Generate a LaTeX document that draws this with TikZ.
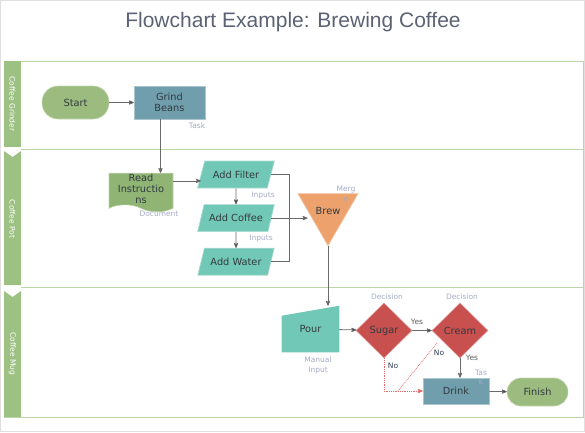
\documentclass[tikz,border=0pt]{standalone}
\usepackage{fontspec}
\setmainfont{DejaVu Sans}
\newfontfamily\titlefont{Liberation Sans}
\usepackage{tikz}
\usetikzlibrary{shapes.geometric, shapes.symbols, positioning, backgrounds}
\usetikzlibrary{arrows}

\definecolor{lanegreen}{HTML}{9DC183}
\definecolor{laneline}{HTML}{BAD5A8}
\definecolor{termgreen}{HTML}{9CBB7E}
\definecolor{docgreen}{HTML}{8FB474}
\definecolor{taskblue}{HTML}{709EAC}
\definecolor{inputteal}{HTML}{72C8B6}
\definecolor{mergeorange}{HTML}{EDA16C}
\definecolor{decisionred}{HTML}{C8504F}
\definecolor{nored}{HTML}{E26A6A}
\definecolor{tagblue}{HTML}{A4ABC6}
\definecolor{titlegrey}{HTML}{5B6274}
\definecolor{wiregrey}{HTML}{6A6A6A}
\definecolor{textdark}{HTML}{333B40}
\definecolor{yesgrey}{HTML}{5F5F5F}
\definecolor{nodark}{HTML}{2F3B4F}

\begin{document}
\begin{tikzpicture}[x=1pt,y=-1pt,>=stealth',semithick,
                    font=\fontsize{9.8pt}{11pt}\selectfont]
\tikzstyle{terminal}=[rectangle,fill=termgreen,draw=termgreen!60!white,line width=0.6pt,text=textdark]
\tikzstyle{task}=[rectangle,fill=taskblue,draw=taskblue!60!white,line width=0.6pt,align=center,inner sep=1pt,text=textdark]
\tikzstyle{document}=[tape,tape bend top=none,tape bend bottom=out and in,tape bend height=7pt,fill=docgreen,draw=docgreen!60!white,line width=0.6pt,align=center,inner sep=1pt,text=textdark]
\tikzstyle{inputs}=[trapezium,trapezium left angle=60,trapezium right angle=120,trapezium stretches=true,fill=inputteal,draw=inputteal!60!white,line width=0.6pt,minimum width=77pt,minimum height=27pt,inner sep=1pt,text=textdark]
\tikzstyle{merge}=[regular polygon,regular polygon sides=3,shape border rotate=180,fill=mergeorange,draw=mergeorange!60!white,line width=0.6pt,minimum size=64pt,inner sep=0pt,text=textdark]
\tikzstyle{manual}=[rectangle,minimum width=57pt,minimum height=46pt,inner sep=0pt,text=textdark]
\tikzstyle{decision}=[diamond,aspect=1,fill=decisionred,draw=decisionred!60!white,line width=0.6pt,minimum width=56pt,minimum height=55pt,inner sep=0pt,text=textdark]
\tikzstyle{tag}=[font=\fontsize{7.5pt}{9.5pt}\selectfont,text=tagblue,align=center,inner sep=0pt]
\tikzstyle{answer}=[font=\fontsize{7.5pt}{9pt}\selectfont,inner sep=0pt]
\tikzstyle{wire}=[->,draw=wiregrey,line width=0.8pt]
\tikzstyle{noline}=[draw=nored,densely dotted,line width=0.8pt]
\tikzstyle{lane}=[draw=laneline,line width=1pt]
\tikzstyle{strip}=[fill=lanegreen]
\tikzstyle{lanename}=[rotate=-90,text=white,font=\fontsize{7.5pt}{9pt}\selectfont]

        \useasboundingbox (0,0) rectangle (585,432);
        \draw[gray!25] (0.5,0.5) rectangle (584.5,431.5);

        % title
        \node[font=\titlefont\fontsize{21pt}{24pt}\selectfont,text=titlegrey]   (title) at (293,22) {Flowchart Example: Brewing Coffee};

        % swimlanes
        \fill[strip] (4,61) rectangle (21,147);
        \fill[strip] (4,151) -- (12.5,157) -- (21,151) -- (21,285) -- (4,285) -- cycle;
        \fill[strip] (4,291) -- (12.5,297) -- (21,291) -- (21,417) -- (4,417) -- cycle;
        \draw[lane] (21,61) -- (583,61) -- (583,417) -- (4,417);
        \draw[lane] (21,149) -- (583,149);
        \draw[lane] (21,287) -- (583,287);
        \node[lanename]   (grinderlane) at (12.5,104) {Coffee Grinder};
        \node[lanename]   (potlane)     at (12.5,219) {Coffee Pot};
        \node[lanename]   (muglane)     at (12.5,354) {Coffee Mug};

        % shapes
        \node[terminal,rounded corners=16pt,minimum width=67pt,minimum height=33pt]   (start) at (75.5,102.5) {Start};
        \node[task,minimum width=71pt,minimum height=33pt]                            (grind) at (169.5,102.5) {Grind\\Beans};
        \node[document,minimum width=64pt,minimum height=38pt]                        (readins) at (141,189) {Read\\Instructio\\ns};
        \node[inputs]                                        (addfilter) at (236,174.5) {Add Filter};
        \node[inputs]                                        (addcoffee) [below=16pt of addfilter] {Add Coffee};
        \node[inputs]                                        (addwater)  [below=16pt of addcoffee] {Add Water};
        \node[merge]                                         (brew) at (328,211) {Brew};
        \node[manual]                                        (pour) at (310.5,329) {Pour};
        \node[decision]                                      (sugar) at (384,330.5) {Sugar};
        \node[decision]                                      (cream) at (460,330.5) {Cream};
        \node[task,minimum width=66pt,minimum height=26pt]   (drink) at (456,391) {Drink};
        \node[terminal,rounded corners=14pt,minimum width=61pt,minimum height=28pt]   (finish) at (537.5,392) {Finish};

        \begin{scope}[on background layer]
        \fill[inputteal] (pour.south west) -- (pour.south east) -- (pour.north east) -- ([yshift=-10pt]pour.north west) -- cycle;
        \end{scope}

        % shape names
        \node[tag]   (tasktag)   at (197,126) {Task};
        \node[tag]   (doctag)    at (159,214) {Document};
        \node[tag]   (filtertag) at (263,196) {Inputs};
        \node[tag]   (coffeetag) at (261,239) {Inputs};
        \node[tag]   (mergetag)  at (346,194) {Merg\\e};
        \node[tag]   (sugartag)  at (387,297) {Decision};
        \node[tag]   (creamtag)  at (462,297) {Decision};
        \node[tag]   (pourtag)   at (318,365.5) {Manual\\Input};
        \node[tag]   (drinktag)  at (481,377.5) {Tas\\k};

        % answers
        \node[answer,text=yesgrey]   (sugaryes) at (417,322) {Yes};
        \node[answer,text=yesgrey]   (creamyes) at (472,358) {Yes};
        \node[answer,text=nodark]    (sugarno)  at (393,366) {No};
        \node[answer,text=nodark]    (creamno)  at (439,353) {No};

        \coordinate (mergeline) at (289,0);
        \coordinate (creamnostart) at (437,343);
        \coordinate (creamnoend) at (398,391);

        \path[wire]
        (start)     edge node {}   (grind)
        (addfilter) edge node {}   (addcoffee)
        (addcoffee) edge node {}   (addwater)
        (pour)      edge node {}   (sugar)
        (sugar)     edge node {}   (cream)
        (drink)     edge node {}   (finish)
        ; %end path

        \draw[wire] ([xshift=-9pt]grind.south) -- ([xshift=-9pt]grind.south |- readins.north);
        \draw[wire] ([yshift=-8pt]readins.north east) -- ([yshift=-8pt]readins.north east -| addfilter.west);
        \draw[wire,-] (addfilter.east) -- (addfilter.east -| mergeline) |- (addwater.east);
        \draw[wire] (addcoffee.east) -- (addcoffee.east -| brew.180);
        \draw[wire] (brew.270) -- (brew.270 |- pour.north);
        \draw[wire] (cream.south) -- (cream.south |- drink.north);
        \draw[noline,->] (sugar.south) |- (drink.west);
        \draw[noline] (creamnostart) -- (creamnoend);

\end{tikzpicture}
\end{document}
